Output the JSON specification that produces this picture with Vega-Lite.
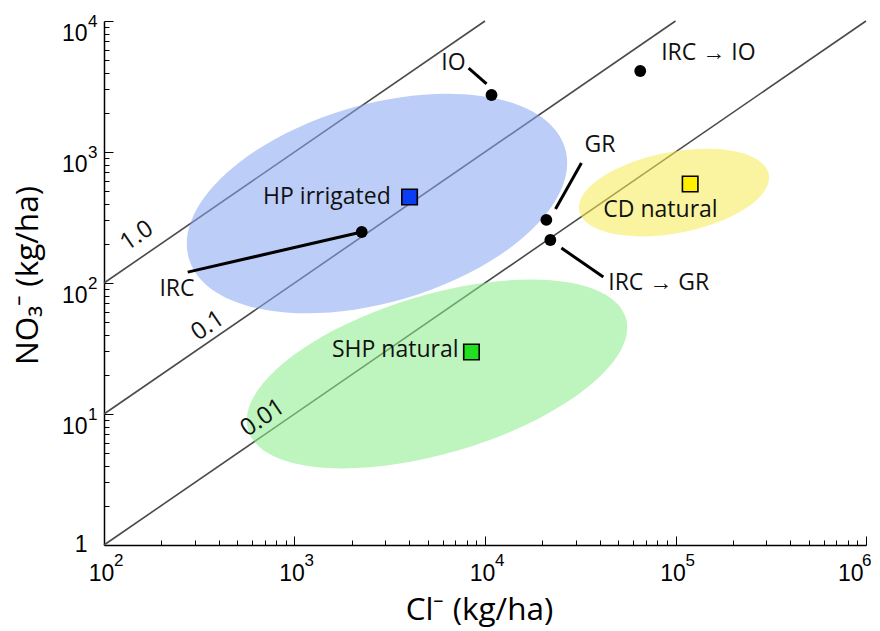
{
  "$schema": "https://vega.github.io/schema/vega-lite/v6.json",
  "width": 762,
  "height": 524,
  "autosize": "none",
  "padding": {"left": 104, "top": 21, "right": 14, "bottom": 86},
  "background": "white",
  "config": {"view": {"stroke": null}},
  "datasets": {
    "ratioLines": [
      {"ratio": "1.0", "cl": 100, "no3": 100},
      {"ratio": "1.0", "cl": 10000, "no3": 10000},
      {"ratio": "0.1", "cl": 100, "no3": 10},
      {"ratio": "0.1", "cl": 100000, "no3": 10000},
      {"ratio": "0.01", "cl": 100, "no3": 1},
      {"ratio": "0.01", "cl": 1000000, "no3": 10000}
    ],
    "hpRegion": [{"region": "HP irrigated", "cl": 2710, "no3": 405}],
    "shpRegion": [{"region": "SHP natural", "cl": 5598, "no3": 20.2}],
    "cdRegion": [{"region": "CD natural", "cl": 98200, "no3": 490}],
    "leaders": [
      {"id": "IRC", "cl": 275, "no3": 121},
      {"id": "IRC", "cl": 2254, "no3": 245},
      {"id": "IO", "cl": 8206, "no3": 4374},
      {"id": "IO", "cl": 10190, "no3": 3305},
      {"id": "GR", "cl": 32070, "no3": 824},
      {"id": "GR", "cl": 23450, "no3": 367},
      {"id": "IRC-GR", "cl": 25180, "no3": 185},
      {"id": "IRC-GR", "cl": 41800, "no3": 111}
    ],
    "scenarios": [
      {"id": "IRC", "cl": 2254, "no3": 245},
      {"id": "IO", "cl": 10820, "no3": 2723},
      {"id": "GR", "cl": 20990, "no3": 303},
      {"id": "IRC-GR", "cl": 22030, "no3": 213},
      {"id": "IRC-IO", "cl": 65300, "no3": 4150}
    ],
    "regionMeans": [
      {"region": "HP irrigated", "cl": 4018, "no3": 453},
      {"region": "CD natural", "cl": 119400, "no3": 570},
      {"region": "SHP natural", "cl": 8490, "no3": 29.7}
    ],
    "labelsLeft": [
      {"text": "IRC → IO", "cl": 84100, "no3": 5705},
      {"text": "GR", "cl": 33270, "no3": 1130},
      {"text": "CD natural", "cl": 41790, "no3": 361},
      {"text": "IRC → GR", "cl": 44360, "no3": 100}
    ],
    "labelsRight": [
      {"text": "IO", "cl": 7910, "no3": 4780},
      {"text": "HP irrigated", "cl": 3200, "no3": 453},
      {"text": "SHP natural", "cl": 7263, "no3": 30.8}
    ],
    "labelsCenter": [
      {"text": "IRC", "cl": 241.6, "no3": 89.9}
    ],
    "ratioLabels": [
      {"text": "1.0", "cl": 149, "no3": 228},
      {"text": "0.1", "cl": 351, "no3": 47},
      {"text": "0.01", "cl": 682, "no3": 9.3}
    ],
    "xExponents": [
      {"exp": "2", "cl": 100, "no3": 1},
      {"exp": "3", "cl": 1000, "no3": 1},
      {"exp": "4", "cl": 10000, "no3": 1},
      {"exp": "5", "cl": 100000, "no3": 1}
    ],
    "xExponentEdge": [
      {"exp": "6", "cl": 1000000, "no3": 1}
    ],
    "yExponents": [
      {"exp": "1", "cl": 100, "no3": 10},
      {"exp": "2", "cl": 100, "no3": 100},
      {"exp": "3", "cl": 100, "no3": 1000},
      {"exp": "4", "cl": 100, "no3": 10000}
    ]
  },
  "encoding": {
    "x": {
      "field": "cl",
      "type": "quantitative",
      "scale": {"type": "log", "domain": [100, 1000000], "nice": false},
      "axis": {
        "title": "Cl⁻ (kg/ha)",
        "titleX": 375,
        "values": [100, 200, 300, 400, 500, 600, 700, 800, 900, 1000, 2000, 3000, 4000, 5000, 6000, 7000, 8000, 9000, 10000, 20000, 30000, 40000, 50000, 60000, 70000, 80000, 90000, 100000, 200000, 300000, 400000, 500000, 600000, 700000, 800000, 900000, 1000000],
        "labelExpr": "abs(log(datum.value)/LN10 - round(log(datum.value)/LN10)) < 0.001 ? '10' : ''",
        "labelAlign": {"condition": {"test": "datum.value == 1000000", "value": "right"}, "value": "center"},
        "labelOffset": -3,
        "tickSize": {"condition": {"test": "abs(log(datum.value)/LN10 - round(log(datum.value)/LN10)) < 0.001", "value": -9}, "value": -5},
        "tickColor": "black",
        "tickWidth": 1,
        "domainColor": "black",
        "domainWidth": 1.5,
        "grid": false,
        "labelFont": "Liberation Sans",
        "labelFontSize": 23,
        "labelColor": "black",
        "labelPadding": 26,
        "labelOverlap": false,
        "labelFlush": false,
        "labelBound": false,
        "titleFont": "Open Sans",
        "titleFontSize": 31.5,
        "titleFontWeight": "normal",
        "titleColor": "black",
        "titlePadding": 5
      }
    },
    "y": {
      "field": "no3",
      "type": "quantitative",
      "scale": {"type": "log", "domain": [1, 10000], "nice": false},
      "axis": {
        "title": "NO₃⁻ (kg/ha)",
        "titleY": 254,
        "values": [1, 2, 3, 4, 5, 6, 7, 8, 9, 10, 20, 30, 40, 50, 60, 70, 80, 90, 100, 200, 300, 400, 500, 600, 700, 800, 900, 1000, 2000, 3000, 4000, 5000, 6000, 7000, 8000, 9000, 10000],
        "labelExpr": "datum.value == 1 ? '1' : abs(log(datum.value)/LN10 - round(log(datum.value)/LN10)) < 0.001 ? '10' : ''",
        "labelOffset": {"condition": {"test": "datum.value == 1", "value": -1}, "value": 12},
        "tickSize": {"condition": {"test": "abs(log(datum.value)/LN10 - round(log(datum.value)/LN10)) < 0.001", "value": -9}, "value": -5},
        "tickColor": "black",
        "tickWidth": 1,
        "domainColor": "black",
        "domainWidth": 1.5,
        "grid": false,
        "labelFont": "Liberation Sans",
        "labelFontSize": 23,
        "labelColor": "black",
        "labelPadding": 26,
        "labelBaseline": "middle",
        "labelOverlap": false,
        "labelFlush": false,
        "labelBound": false,
        "titleFont": "Open Sans",
        "titleFontSize": 31.5,
        "titleFontWeight": "normal",
        "titleColor": "black",
        "titlePadding": 17
      }
    }
  },
  "layer": [
    {
      "data": {"name": "ratioLines"},
      "mark": {"type": "line", "color": "#4a4a4a", "strokeWidth": 1.6},
      "encoding": {"detail": {"field": "ratio"}}
    },
    {
      "data": {"name": "hpRegion"},
      "mark": {
        "type": "point",
        "shape": "M -1 0 A 1 0.505 0 1 1 1 0 A 1 0.505 0 1 1 -1 0 Z",
        "size": 153664,
        "angle": 343.7,
        "filled": true,
        "fill": "#85a4f0",
        "fillOpacity": 0.55,
        "strokeWidth": 0
      }
    },
    {
      "data": {"name": "shpRegion"},
      "mark": {
        "type": "point",
        "shape": "M -1 0 A 1 0.403 0 1 1 1 0 A 1 0.403 0 1 1 -1 0 Z",
        "size": 155236,
        "angle": 343.5,
        "filled": true,
        "fill": "#88ed88",
        "fillOpacity": 0.55,
        "strokeWidth": 0
      }
    },
    {
      "data": {"name": "cdRegion"},
      "mark": {
        "type": "point",
        "shape": "M -1 0 A 1 0.42 0 1 1 1 0 A 1 0.42 0 1 1 -1 0 Z",
        "size": 37249,
        "angle": 349.1,
        "filled": true,
        "fill": "#f6eb52",
        "fillOpacity": 0.55,
        "strokeWidth": 0
      }
    },
    {
      "data": {"name": "leaders"},
      "mark": {"type": "line", "color": "black", "strokeWidth": 3},
      "encoding": {"detail": {"field": "id"}}
    },
    {
      "data": {"name": "scenarios"},
      "mark": {"type": "point", "shape": "circle", "filled": true, "color": "black", "size": 140, "opacity": 1}
    },
    {
      "data": {"name": "regionMeans"},
      "mark": {"type": "point", "shape": "square", "filled": true, "size": 240, "stroke": "black", "strokeWidth": 1.6, "opacity": 1},
      "encoding": {
        "fill": {
          "field": "region",
          "type": "nominal",
          "scale": {"domain": ["HP irrigated", "CD natural", "SHP natural"], "range": ["#0b3df2", "#ffee00", "#1fe01f"]},
          "legend": null
        }
      }
    },
    {
      "data": {"name": "labelsLeft"},
      "mark": {"type": "text", "align": "left", "baseline": "middle", "font": "Open Sans", "fontSize": 23, "color": "#111"},
      "encoding": {"text": {"field": "text"}}
    },
    {
      "data": {"name": "labelsRight"},
      "mark": {"type": "text", "align": "right", "baseline": "middle", "font": "Open Sans", "fontSize": 23, "color": "#111"},
      "encoding": {"text": {"field": "text"}}
    },
    {
      "data": {"name": "labelsCenter"},
      "mark": {"type": "text", "align": "center", "baseline": "middle", "font": "Open Sans", "fontSize": 23, "color": "#111"},
      "encoding": {"text": {"field": "text"}}
    },
    {
      "data": {"name": "ratioLabels"},
      "mark": {"type": "text", "align": "center", "baseline": "middle", "angle": 325.6, "font": "Open Sans", "fontSize": 24, "color": "#111"},
      "encoding": {"text": {"field": "text"}}
    },
    {
      "data": {"name": "xExponents"},
      "mark": {"type": "text", "align": "left", "baseline": "middle", "dx": 10, "dy": 16, "font": "Liberation Sans", "fontSize": 17, "color": "black"},
      "encoding": {"text": {"field": "exp"}}
    },
    {
      "data": {"name": "xExponentEdge"},
      "mark": {"type": "text", "align": "left", "baseline": "middle", "dx": -4, "dy": 16, "font": "Liberation Sans", "fontSize": 17, "color": "black"},
      "encoding": {"text": {"field": "exp"}}
    },
    {
      "data": {"name": "yExponents"},
      "mark": {"type": "text", "align": "left", "baseline": "middle", "dx": -16, "dy": 1, "font": "Liberation Sans", "fontSize": 17, "color": "black"},
      "encoding": {"text": {"field": "exp"}}
    }
  ]
}
